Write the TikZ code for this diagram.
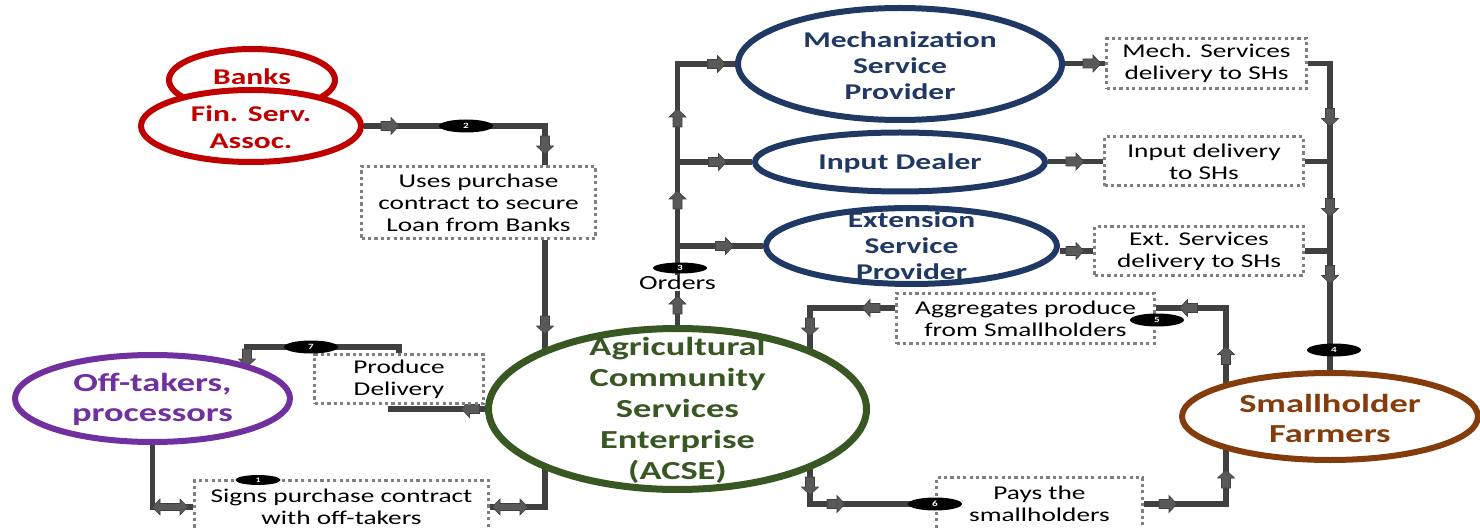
\documentclass[tikz,border=0pt]{standalone}
\usepackage{fontspec}
\setmainfont{Carlito}[FakeStretch=1.4]
\usetikzlibrary{shapes.geometric,decorations.markings}
\pgfdeclarelayer{bg}
\pgfsetlayers{bg,main}
\definecolor{conn}{HTML}{404040}
\definecolor{mkc}{HTML}{595959}
\definecolor{dotc}{HTML}{7F7F7F}
\definecolor{cred}{HTML}{C00000}
\definecolor{cgreen}{HTML}{385723}
\definecolor{cnavy}{HTML}{203864}
\definecolor{cpurple}{HTML}{7030A0}
\definecolor{cbrown}{HTML}{843C0C}
\newcommand\blockarr{\fill[mkc,draw=conn,line width=0.6pt] (-9,-4.5) -- (1,-4.5) -- (1,-8.5) -- (9,0) -- (1,8.5) -- (1,4.5) -- (-9,4.5) -- cycle;}
\newcommand\dblarr{\fill[mkc,draw=conn,line width=0.6pt] (-18,0) -- (-10,-8) -- (-10,-3.5) -- (10,-3.5) -- (10,-8) -- (18,0) -- (10,8) -- (10,3.5) -- (-10,3.5) -- (-10,8) -- cycle;}
\begin{document}
\begin{tikzpicture}[x=1pt,y=-1pt,
  ell/.style={ellipse,fill=white,inner sep=0pt,line width=6pt},
  lbl/.style={align=center,inner sep=0pt,font=\bfseries\fontsize{22.5}{26}\selectfont},
  dbox/.style={draw=dotc,line width=3pt,dash pattern=on 3.2pt off 3.2pt,fill=white,inner sep=0pt,align=center,font=\fontsize{19.5}{22}\selectfont},
  badge/.style={ellipse,fill=black,inner sep=0pt,minimum width=54pt,minimum height=13pt,text=white,font=\bfseries\fontsize{8}{8}\selectfont},
  cl/.style={draw=conn,line width=5.5pt},
  arr/.style={postaction={decorate,decoration={markings,mark=at position #1 with {\blockarr}}}},
  darr/.style={postaction={decorate,decoration={markings,mark=at position #1 with {\dblarr}}}}
]
\useasboundingbox (0,0) rectangle (1480,529);
% ellipses
\node[ell,draw=cred,minimum width=166pt,minimum height=62pt] (banks) at (252,80) {};
\node[ell,draw=cred,minimum width=220pt,minimum height=72pt] (fin) at (251,126) {};
\node[lbl,text=cred] (bankst) at (252,77) {Banks};
\node[lbl,text=cred,font=\bfseries\fontsize{22.5}{27}\selectfont] (fint) at (251,127) {Fin. Serv.\\Assoc.};
\node[ell,draw=cgreen,line width=7pt,minimum width=378pt,minimum height=161pt] (acse) at (677.5,409) {};
\node[lbl,text=cgreen,font=\bfseries\fontsize{26}{31}\selectfont] (acset) at (677.5,410) {Agricultural\\Community\\Services\\Enterprise\\(ACSE)};
\node[ell,draw=cnavy,minimum width=324pt,minimum height=112pt] (mech) at (900,64) {};
\node[lbl,text=cnavy] (mecht) at (900,66) {Mechanization\\Service\\Provider};
\node[ell,draw=cnavy,minimum width=290pt,minimum height=59pt] (input) at (900,162) {};
\node[lbl,text=cnavy] (inputt) at (900,163) {Input Dealer};
\node[ell,draw=cnavy,minimum width=291pt,minimum height=76pt] (ext) at (911.5,246) {};
\node[lbl,text=cnavy] (extt) at (911.5,246) {Extension\\Service\\Provider};
\node[ell,draw=cbrown,minimum width=296pt,minimum height=87pt] (sh) at (1330,416.5) {};
\node[lbl,text=cbrown,font=\bfseries\fontsize{26}{30}\selectfont] (sht) at (1330,418) {Smallholder\\Farmers};
\node[ell,draw=cpurple,minimum width=275pt,minimum height=87pt] (offt) at (152.5,398.5) {};
\node[lbl,text=cpurple,font=\bfseries\fontsize{26}{30}\selectfont] (offtt) at (152.5,399) {Off-takers,\\processors};
% dotted boxes
\node[dbox,minimum width=234pt,minimum height=72pt] (usebox) at (478.5,202.5) {Uses purchase\\contract to secure\\Loan from Banks};
\node[dbox,minimum width=200pt,minimum height=50pt] (mechbox) at (1206.5,63.5) {Mech. Services\\delivery to SHs};
\node[dbox,minimum width=199pt,minimum height=49pt] (inbox) at (1204,161.5) {Input delivery\\to SHs};
\node[dbox,minimum width=209pt,minimum height=49pt] (extbox) at (1199,251) {Ext. Services\\delivery to SHs};
\node[dbox,minimum width=258pt,minimum height=50pt] (aggbox) at (1025.5,318.5) {Aggregates produce\\from Smallholders};
\node[dbox,minimum width=206pt,minimum height=53pt] (paysbox) at (1039.5,504) {Pays the\\smallholders};
\node[dbox,minimum width=169pt,minimum height=49pt] (prodbox) at (399,379) {Produce\\Delivery};
\node[dbox,minimum width=294pt,minimum height=53pt] (signbox) at (341.5,507) {Signs purchase contract\\with off-takers};
\node[fill=white,inner sep=1pt,font=\fontsize{20}{22}\selectfont] (orders) at (677.5,283) {Orders};
% rail coordinates
\coordinate (xA) at (545,0);
\coordinate (xM) at (810,0);
\coordinate (xS) at (1226,0);
\coordinate (xP) at (388,0);
\coordinate (agY) at (0,308);
\coordinate (r7) at (247,347);
% connectors
\begin{pgfonlayer}{bg}
\draw[cl,arr=26pt,arr=200pt] (fin.east) -- (fin.east -| xA) -- (xA |- usebox.north);
\draw[cl,arr=85pt] (xA |- usebox.south) -- (xA |- acse.center);
\draw[cl,arr=104pt,arr=209pt,arr=291pt,arr=384pt] (acse.center) -- (acse.center |- mech.west) -- (mech.west);
\draw[cl,arr=40pt] (acse.center |- input.west) -- (input.west);
\draw[cl,arr=47pt] (acse.center |- ext.west) -- (ext.west);
\draw[cl,arr=27pt] (mech.east |- mechbox.west) -- (mechbox.west);
\draw[cl,arr=27pt] (input.east |- inbox.west) -- (inbox.west);
\draw[cl,arr=15pt] (ext.east |- extbox.west) -- (extbox.west);
\draw[cl,arr=76pt,arr=166pt,arr=233pt] (mechbox.east) -| (sh.center);
\draw[cl] (inbox.east) -- (inbox.east -| sh.center);
\draw[cl] (extbox.east) -- (extbox.east -| sh.center);
\draw[cl,arr=61pt,arr=146pt] (xS |- sh.center) -- (xS |- agY) -- (aggbox.east |- agY);
\draw[cl,arr=24pt,arr=104pt] (aggbox.west |- agY) -- (xM |- agY) -- (xM |- acse.center);
\draw[cl,arr=77pt,arr=121pt] (xM |- acse.center) -- (xM |- paysbox.west) -- (paysbox.west);
\draw[cl,arr=24pt,arr=107pt] (paysbox.east) -- (paysbox.east -| xS) -- (xS |- sh.center);
\draw[cl,arr=207pt] (acse.center) -- (xP |- acse.center);
\draw[cl,arr=169pt] (prodbox.north) |- (r7) -- (r7 |- offt.center);
\draw[cl,darr=126pt] (offt.center) |- (signbox.west);
\draw[cl,darr=20pt] (signbox.east) -| (xA |- acse.center);
\end{pgfonlayer}
% badges
\node[badge,minimum width=45pt,minimum height=10pt,font=\bfseries\fontsize{7}{7}\selectfont] (b1) at (258,480) {1};
\node[badge] (b2) at (466,126) {2};
\node[badge,minimum height=11pt] (b3) at (680,268) {3};
\node[badge] (b4) at (1334,350) {4};
\node[badge] (b5) at (1157,320) {5};
\node[badge] (b6) at (935,504) {6};
\node[badge] (b7) at (311,347) {7};
\end{tikzpicture}
\end{document}
